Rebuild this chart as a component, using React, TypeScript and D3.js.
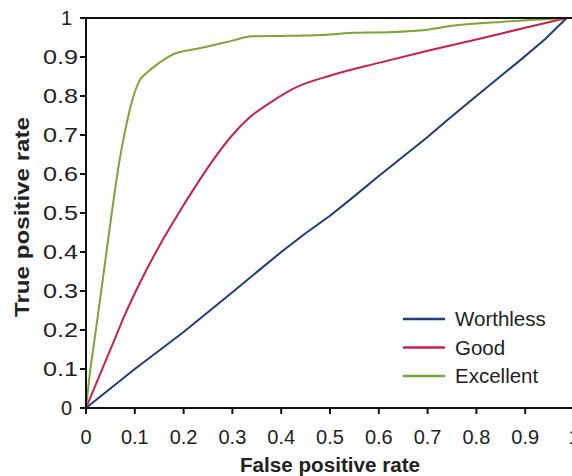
import React from "react";
import * as d3 from "d3";

const xTicks = [0, 0.1, 0.2, 0.3, 0.4, 0.5, 0.6, 0.7, 0.8, 0.9, 1];
const yTicks = [0, 0.1, 0.2, 0.3, 0.4, 0.5, 0.6, 0.7, 0.8, 0.9, 1];

const worthlessX = [0, 0.1, 0.2, 0.3, 0.4, 0.45, 0.5, 0.54, 0.6, 0.7, 0.74, 0.8, 0.84, 0.89, 0.94, 0.985];
const worthlessY = [0, 0.1, 0.195, 0.297, 0.4, 0.448, 0.493, 0.533, 0.595, 0.695, 0.738, 0.8, 0.841, 0.892, 0.945, 1];

const goodX = [0, 0.01, 0.03, 0.055, 0.08, 0.11, 0.15, 0.19, 0.22, 0.26, 0.3, 0.336, 0.38, 0.43, 0.5, 0.6, 0.7, 0.8, 0.9, 0.985];
const goodY = [0, 0.03, 0.09, 0.165, 0.24, 0.32, 0.415, 0.5, 0.56, 0.635, 0.7, 0.746, 0.785, 0.822, 0.852, 0.885, 0.916, 0.945, 0.975, 1];

const excellentX = [0, 0.008, 0.018, 0.029, 0.042, 0.055, 0.068, 0.08, 0.095, 0.11, 0.125, 0.15, 0.175, 0.2, 0.23, 0.26, 0.3, 0.34, 0.4, 0.45, 0.5, 0.55, 0.6, 0.7, 0.75, 0.85, 0.985];
const excellentY = [0, 0.09, 0.18, 0.28, 0.4, 0.52, 0.63, 0.71, 0.79, 0.84, 0.86, 0.885, 0.905, 0.915, 0.922, 0.93, 0.942, 0.953, 0.954, 0.955, 0.958, 0.962, 0.963, 0.97, 0.98, 0.99, 1];

const seriesNames = ["Worthless", "Good", "Excellent"];
const seriesColors = ["#1f3c7c", "#c8214c", "#7da535"];

const W = 572;
const H = 476;
const x0 = 86, x1 = 574, y0 = 408, y1 = 18;

export default function App() {
  const x = d3.scaleLinear().domain([0, 1]).range([x0, x1]);
  const y = d3.scaleLinear().domain([0, 1]).range([y0, y1]);
  const smooth = d3.line<[number, number]>().x(d => x(d[0])).y(d => y(d[1])).curve(d3.curveMonotoneX);
  const straight = d3.line<[number, number]>().x(d => x(d[0])).y(d => y(d[1]));
  const series = [
    { xs: worthlessX, ys: worthlessY, gen: straight },
    { xs: goodX, ys: goodY, gen: smooth },
    { xs: excellentX, ys: excellentY, gen: smooth },
  ];
  const font = "'Liberation Sans', Arial, sans-serif";
  return (
    <svg width={W} height={H} style={{ position: "absolute", left: 0, top: 0, background: "#fff" }} fontFamily={font}>
      {series.map((s, i) => (
        <path key={i} d={s.gen(s.xs.map((v, j) => [v, s.ys[j]] as [number, number])) || ""} fill="none" stroke={seriesColors[i]} strokeWidth={2} strokeLinejoin="round" />
      ))}
      {/* frame */}
      <line x1={x0} x2={W} y1={y1} y2={y1} stroke="#111" strokeWidth={2} />
      <line x1={x0} x2={x0} y1={y1 - 1} y2={y0 + 1} stroke="#111" strokeWidth={2} />
      <line x1={x0 - 1} x2={W} y1={y0} y2={y0} stroke="#111" strokeWidth={2} />
      {yTicks.map((t, i) => {
        const s = String(t);
        const long = s.length > 1;
        return (
          <g key={"y" + i}>
            <line x1={x0 - 6} x2={x0} y1={y(t)} y2={y(t)} stroke="#111" strokeWidth={2} />
            <text x={long ? x0 - 8 : x0 - 14} y={y(t)} dy="0.36em" textAnchor="end" fontSize={20} fill="#222"
              {...(long ? { textLength: 35, lengthAdjust: "spacingAndGlyphs" } : {})}>{s}</text>
          </g>
        );
      })}
      {xTicks.map((t, i) => (
        <g key={"x" + i}>
          <line x1={x(t)} x2={x(t)} y1={y0} y2={y0 + 6} stroke="#111" strokeWidth={2} />
          <text x={x(t)} y={444} textAnchor="middle" fontSize={20} fill="#222">{String(t)}</text>
        </g>
      ))}
      <text x={330} y={472} textAnchor="middle" fontSize={20} fontWeight="bold" fill="#222" textLength={180} lengthAdjust="spacingAndGlyphs">False positive rate</text>
      <text transform={`translate(29,${217}) rotate(-90)`} textAnchor="middle" fontSize={20} fontWeight="bold" fill="#222" textLength={200} lengthAdjust="spacingAndGlyphs">True positive rate</text>
      {seriesNames.map((n, i) => (
        <g key={n}>
          <line x1={403} x2={445} y1={319 + i * 28.5} y2={319 + i * 28.5} stroke={seriesColors[i]} strokeWidth={2.5} />
          <text x={455} y={319 + i * 28.5} dy="0.36em" fontSize={20.5} fill="#222">{n}</text>
        </g>
      ))}
    </svg>
  );
}
